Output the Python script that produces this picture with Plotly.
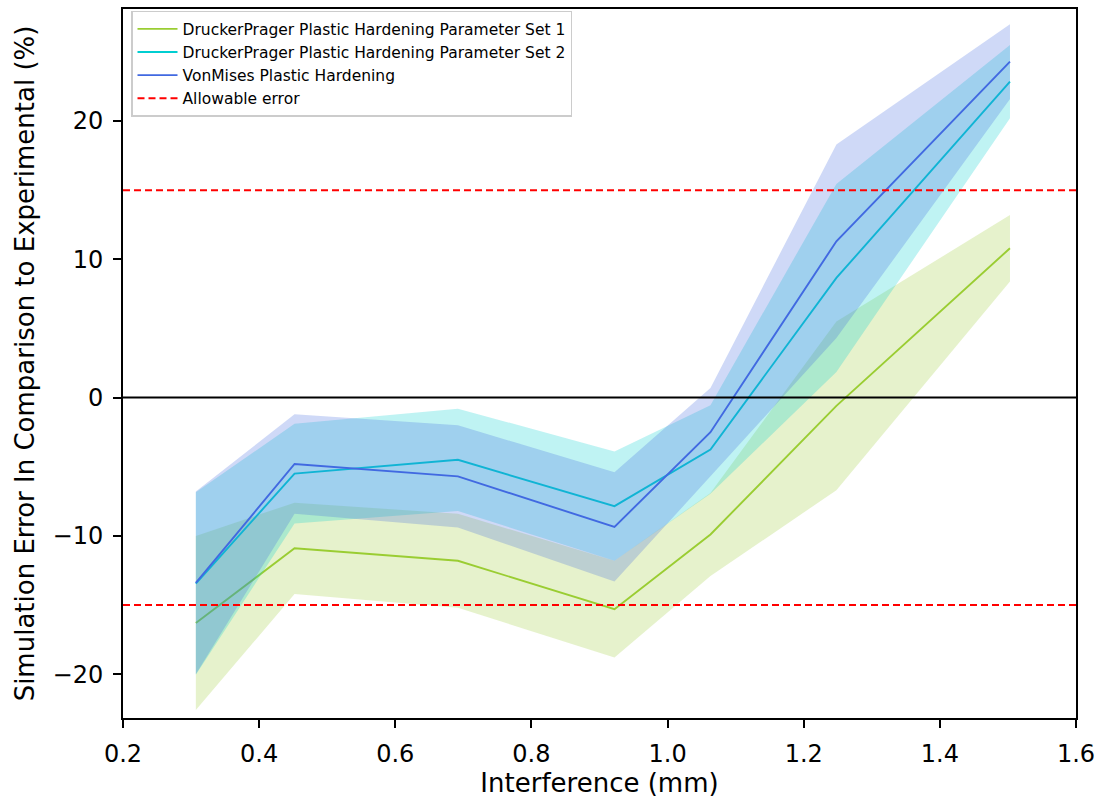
import plotly.graph_objects as go

# ---- data ----
interference = [0.307, 0.452, 0.692, 0.922, 1.063, 1.248, 1.503]

dp1_mean = [-16.3, -10.9, -11.8, -15.3, -9.9, -0.6, 10.8]
dp1_err = [6.3, 3.3, 3.4, 3.5, 3.0, 6.1, 2.4]

dp2_mean = [-13.45, -5.5, -4.5, -7.85, -3.75, 8.65, 22.85]
dp2_err = [6.6, 3.6, 3.7, 3.95, 3.2, 6.8, 2.65]

vm_mean = [-13.4, -4.8, -5.7, -9.35, -2.5, 11.3, 24.3]
vm_err = [6.6, 3.6, 3.7, 3.95, 3.2, 7.0, 2.7]

allowable = 15.0
x_range = [0.2, 1.6]
y_range = [-23.17, 28.1]
x_ticks = [0.2, 0.4, 0.6, 0.8, 1.0, 1.2, 1.4, 1.6]
y_ticks = [-20, -10, 0, 10, 20]

series = [
    ("DruckerPrager Plastic Hardening Parameter Set 1", dp1_mean, dp1_err, "#9acd32", "rgba(154,205,50,0.25)"),
    ("DruckerPrager Plastic Hardening Parameter Set 2", dp2_mean, dp2_err, "#00ced1", "rgba(0,206,209,0.25)"),
    ("VonMises Plastic Hardening", vm_mean, vm_err, "#4169e1", "rgba(65,105,225,0.25)"),
]

fig = go.Figure()

for i, (name, mean, err, col, fillcol) in enumerate(series):
    upper = [m + e for m, e in zip(mean, err)]
    lower = [m - e for m, e in zip(mean, err)]
    fig.add_trace(go.Scatter(
        x=interference + interference[::-1],
        y=upper + lower[::-1],
        fill="toself", fillcolor=fillcol,
        line=dict(width=0), mode="lines",
        hoverinfo="skip", showlegend=False,
    ))
    fig.add_trace(go.Scatter(
        x=interference, y=mean, mode="lines", name=name,
        line=dict(color=col, width=1.9),
    ))

fig.add_trace(go.Scatter(
    x=[x_range[0], x_range[1], None, x_range[0], x_range[1]],
    y=[allowable, allowable, None, -allowable, -allowable],
    mode="lines", name="Allowable error",
    line=dict(color="red", width=2, dash="7px,4px"),
))

fig.add_shape(type="line", xref="paper", yref="y", x0=0, x1=1, y0=0, y1=0,
              line=dict(color="black", width=2), layer="above")

axis_common = dict(
    showgrid=False, zeroline=False, showline=True, linecolor="black", linewidth=1.9,
    mirror=True, ticks="outside", ticklen=8, tickwidth=1.9, tickcolor="black",
    tickfont=dict(size=24, color="black"), ticklabelstandoff=5,
)

fig.update_layout(
    width=1105, height=801,
    margin=dict(l=123, r=29, t=7, b=83),
    paper_bgcolor="white", plot_bgcolor="white",
    font=dict(family="DejaVu Sans", color="black"),
    xaxis=dict(range=x_range, tickvals=x_ticks, tickformat=".1f",
               title=dict(text="Interference (mm)", font=dict(size=26), standoff=6),
               **axis_common),
    yaxis=dict(range=y_range, tickvals=y_ticks,
               title=dict(text="Simulation Error In Comparison to Experimental (%)", font=dict(size=26), standoff=10),
               **axis_common),
    legend=dict(x=0.0084, y=0.9975, xanchor="left", yanchor="top",
                bgcolor="rgba(255,255,255,0.8)", bordercolor="#cccccc", borderwidth=1.5,
                font=dict(size=15.5), itemwidth=40),
    showlegend=True,
)

fig.write_html("out.html", post_script="document.body.style.margin='0';",
               config={"displayModeBar": False})
